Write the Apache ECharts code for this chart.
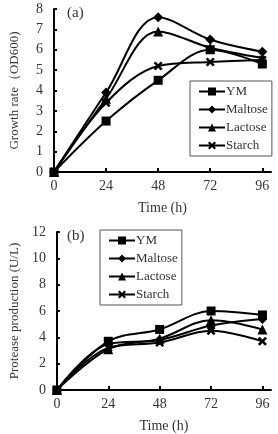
<!DOCTYPE html>
<html><head><meta charset="utf-8">
<script src="https://cdn.jsdelivr.net/npm/echarts@6/dist/echarts.min.js"></script>
<style>html,body{margin:0;padding:0;background:#fff}#c{width:278px;height:434px}</style>
</head><body><div id="c"></div>
<script>
const hours = [0, 24, 48, 72, 96];
const seriesNames = ['YM', 'Maltose', 'Lactose', 'Starch'];
// (a) growth rate OD600
const growthYM = [0, 2.5, 4.5, 6.0, 5.3];
const growthMaltose = [0, 3.9, 7.6, 6.5, 5.9];
const growthLactose = [0, 3.6, 6.9, 6.1, 5.6];
const growthStarch = [0, 3.4, 5.2, 5.4, 5.5];
// (b) protease production U/L
const protYM = [0, 3.7, 4.6, 6.0, 5.7];
const protMaltose = [0, 3.5, 3.8, 4.9, 5.4];
const protLactose = [0, 3.1, 3.9, 5.3, 4.6];
const protStarch = [0, 3.2, 3.6, 4.5, 3.7];
const growthTicks = [0, 1, 2, 3, 4, 5, 6, 7, 8];
const protTicks = [0, 2, 4, 6, 8, 10, 12];

const font = 'Liberation Serif';
const crossPath = 'path://M0,2 L2,0 L5,3 L8,0 L10,2 L7,5 L10,8 L8,10 L5,7 L2,10 L0,8 L3,5 Z';
const symbols = ['rect', 'diamond', 'triangle', crossPath];
const sizes = [9, 10, 10, 9];

function mk(name, data, gi) {
  const i = seriesNames.indexOf(name);
  return {
    name, type: 'line', xAxisIndex: gi, yAxisIndex: gi,
    data: hours.map((h, k) => [h, data[k]]),
    smooth: 0.35, symbol: symbols[i], symbolSize: sizes[i],
    lineStyle: { color: '#000', width: 2 },
    itemStyle: { color: '#000' }, z: 3
  };
}

function xAx(gi) {
  return {
    type: 'value', gridIndex: gi, min: 0, max: 100, interval: 24,
    name: 'Time (h)', nameLocation: 'middle', nameGap: 29,
    nameTextStyle: { fontFamily: font, fontSize: 14, color: '#333' },
    axisLine: { lineStyle: { color: '#000', width: 2 } },
    axisTick: { inside: true, length: 4, lineStyle: { color: '#000', width: 2 }, customValues: hours },
    axisLabel: { fontFamily: font, fontSize: 14, color: '#333', margin: 7, customValues: hours },
    splitLine: { show: false }
  };
}
function yAx(gi, max, interval, name, ticks) {
  return {
    type: 'value', gridIndex: gi, min: 0, max, interval,
    name, nameLocation: 'middle', nameGap: 33,
    nameTextStyle: { fontFamily: font, fontSize: 13, color: '#333' },
    axisLine: { show: true, lineStyle: { color: '#000', width: 2 } },
    axisTick: { show: true, inside: true, length: 3, lineStyle: { color: '#000', width: 2 } },
    axisLabel: { fontFamily: font, fontSize: 14, color: '#333', margin: 11 },
    splitLine: { show: false }
  };
}
function legend(left, top, w, h) {
  return {
    left, top, width: w, height: h, orient: 'vertical', itemGap: 5,
    data: seriesNames, itemWidth: 26, itemHeight: 10, padding: [4, 4, 4, 8],
    borderColor: '#555', borderWidth: 1, borderRadius: 0, backgroundColor: '#fff',
    textStyle: { fontFamily: font, fontSize: 13, color: '#333', padding: [0, 0, 0, -4] },
    selectedMode: false
  };
}

const chart = echarts.init(document.getElementById('c'), null, { renderer: 'canvas' });
chart.setOption({
  animation: false,
  grid: [
    { left: 53, right: 7, top: 9, bottom: 262 },
    { left: 53, right: 7, top: 232, bottom: 39 }
  ],
  xAxis: [xAx(0), xAx(1)],
  yAxis: [yAx(0, 8, 1, 'Growth rate（OD600)', growthTicks), yAx(1, 12, 2, 'Protease production (U/L)', protTicks)],
  legend: [legend(190, 81, 86, 76), legend(100, 230, 80, 74)],
  graphic: [
    { type: 'text', left: 67, top: 6, style: { text: '(a)', font: '15px "Liberation Serif"', fill: '#333' } },
    { type: 'text', left: 67, top: 229, style: { text: '(b)', font: '15px "Liberation Serif"', fill: '#333' } }
  ],
  series: [
    mk('YM', growthYM, 0), mk('Maltose', growthMaltose, 0),
    mk('Lactose', growthLactose, 0), mk('Starch', growthStarch, 0),
    mk('YM', protYM, 1), mk('Maltose', protMaltose, 1),
    mk('Lactose', protLactose, 1), mk('Starch', protStarch, 1)
  ]
});
</script></body></html>
